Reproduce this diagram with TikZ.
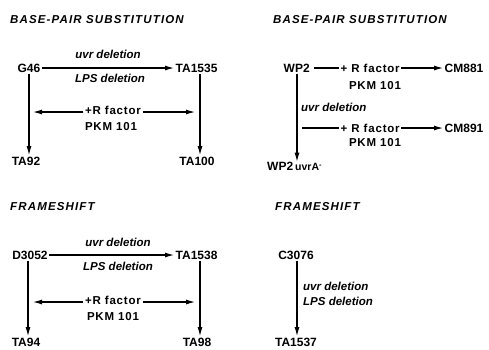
\documentclass[tikz,border=0pt]{standalone}
\usepackage{fontspec}
\setmainfont{Liberation Sans}
\newfontfamily\ttlfont[LetterSpace=10]{Liberation Sans}
\newfontfamily\lblfont[LetterSpace=7]{Liberation Sans}
\usetikzlibrary{arrows.meta}
\begin{document}
\begin{tikzpicture}[x=1pt,y=-1pt,
  ttl/.style={anchor=west,inner sep=0pt,font=\ttlfont\fontsize{11.5}{12}\selectfont\bfseries\itshape},
  strain/.style={inner sep=1.5pt,font=\fontsize{12}{13}\selectfont\bfseries},
  lbl/.style={inner sep=1.5pt,font=\lblfont\fontsize{11.5}{13}\selectfont\bfseries},
  ilbl/.style={inner sep=0pt,font=\fontsize{11.5}{13}\selectfont\bfseries\itshape},
  arr/.style={line width=1.1pt,-{Latex[length=9pt,width=5pt]}},
  ln/.style={line width=1.1pt}]
\useasboundingbox (0,0) rectangle (489,349);
% ---------- panel 1
\node[ttl] (t1) at (10,20) {BASE-PAIR SUBSTITUTION};
\node[strain] (g46) at (29,68) {G46};
\node[strain,anchor=west] (ta1535) at (174,68) {TA1535};
\node[ilbl] (u1) at (108,54) {uvr deletion};
\node[ilbl] (l1) at (110,78) {LPS deletion};
\draw[arr] (g46.east) -- (ta1535.west);
\node[strain] (ta92) at (26,161) {TA92};
\node[strain] (ta100) at (197,161) {TA100};
\coordinate (x1l) at (29,0);
\coordinate (x1r) at (200,0);
\draw[arr] (g46.south -| x1l) -- (ta92.north -| x1l);
\draw[arr] (ta1535.south -| x1r) -- (ta100.north -| x1r);
\node[lbl] (rf1) at (113,110) {+R factor};
\node[lbl] (pk1) at (111,127) {PKM 101};
\coordinate (d1l) at (33,112);
\coordinate (d1r) at (195,112);
\draw[arr] (rf1.west |- d1l) -- (d1l);
\draw[arr] (rf1.east |- d1r) -- (d1r);
% ---------- panel 2
\node[ttl] (t2) at (273,20) {BASE-PAIR SUBSTITUTION};
\node[strain,anchor=west] (wp2) at (282,68) {WP2};
\node[lbl,anchor=west] (rf2) at (339,68) {+ R factor};
\node[strain,anchor=west] (cm881) at (443,68) {CM881};
\node[lbl] (pk2) at (375,86) {PKM 101};
\draw[ln] (wp2.east) ++(3,0) -- (rf2.west);
\draw[arr] (rf2.east) -- (cm881.west);
\node[strain,anchor=west,inner sep=0pt] (wp2u) at (267,166) {WP2\,{\fontsize{10.5}{11}\selectfont uvrA\textsuperscript{\raisebox{-0.3ex}{-}}}};
\coordinate (x2) at (297,0);
\draw[arr] (wp2.south -| x2) -- (wp2u.north -| x2);
\node[ilbl,anchor=west] (u2) at (301,107) {uvr deletion};
\coordinate (b2) at (302,128);
\node[lbl,anchor=west] (rf3) at (339,128) {+ R factor};
\node[strain,anchor=west] (cm891) at (443,128) {CM891};
\node[lbl] (pk3) at (375,143) {PKM 101};
\draw[ln] (b2) -- (rf3.west);
\draw[arr] (rf3.east) -- (cm891.west);
% ---------- panel 3
\node[ttl] (t3) at (10,207) {FRAMESHIFT};
\node[strain] (d3052) at (30,255) {D3052};
\node[strain,anchor=west] (ta1538) at (174,255) {TA1538};
\node[ilbl] (u3) at (118,242) {uvr deletion};
\node[ilbl] (l3) at (118,266) {LPS deletion};
\draw[arr] (d3052.east) -- (ta1538.west);
\node[strain] (ta94) at (26,342) {TA94};
\node[strain] (ta98) at (197,342) {TA98};
\coordinate (x3l) at (28,0);
\coordinate (x3r) at (200,0);
\draw[arr] (d3052.south -| x3l) -- (ta94.north -| x3l);
\draw[arr] (ta1538.south -| x3r) -- (ta98.north -| x3r);
\node[lbl] (rf4) at (113,300) {+R factor};
\node[lbl] (pk4) at (113,317) {PKM 101};
\coordinate (d3l) at (33,302);
\coordinate (d3r) at (195,302);
\draw[arr] (rf4.west |- d3l) -- (d3l);
\draw[arr] (rf4.east |- d3r) -- (d3r);
% ---------- panel 4
\node[ttl] (t4) at (275,207) {FRAMESHIFT};
\node[strain] (c3076) at (296,255) {C3076};
\node[strain] (ta1537) at (296,342) {TA1537};
\coordinate (x4) at (297,0);
\draw[arr] (c3076.south -| x4) -- (ta1537.north -| x4);
\node[ilbl,anchor=west] (u4) at (303,286) {uvr deletion};
\node[ilbl,anchor=west] (l4) at (303,301) {LPS deletion};
\end{tikzpicture}
\end{document}
